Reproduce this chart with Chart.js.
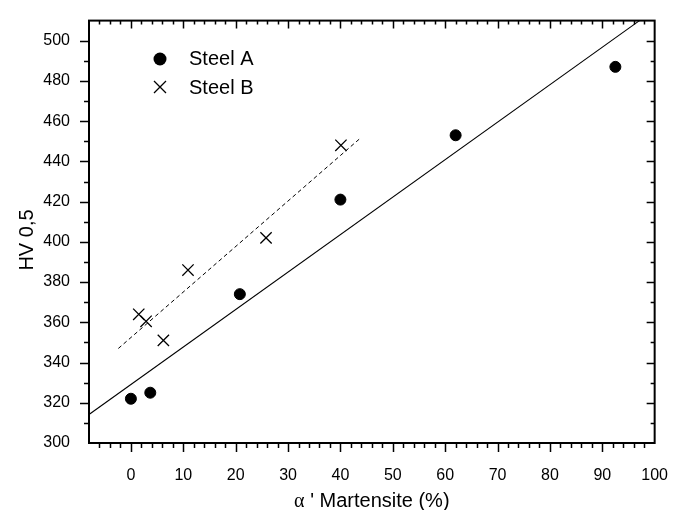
<!DOCTYPE html>
<html>
<head>
<meta charset="utf-8">
<title>HV 0,5 vs martensite</title>
<script src="https://cdn.jsdelivr.net/npm/chart.js@4.4.1/dist/chart.umd.min.js"></script>
<style>
  html, body { margin: 0; padding: 0; background: #fff; }
  canvas { display: block; }
</style>
</head>
<body>
<canvas id="chart" width="683" height="510"></canvas>
<script>
// measured points
const steelAx = [0, 3.7, 20.8, 40, 62, 92.5];
const steelAy = [322, 325, 374, 421, 453, 487];
const steelBx = [1.5, 2.9, 6.2, 10.9, 25.8, 40.1];
const steelBy = [364, 360.5, 351, 386, 402, 448];

// fitted lines (end points)
const fitAx = [-8, 97.1];
const fitAy = [314.2, 510];
const fitBx = [-2.4, 43.7];
const fitBy = [347, 451.3];

const seriesLabels = ["Steel A", "Steel B"];
const xTitle = ["α", " ' ", "Martensite (%)"];
const yTitle = "HV 0,5";

const SANS = "'Liberation Sans', Arial, sans-serif";
const SERIF = "'Liberation Serif', 'Times New Roman', serif";

const toPoints = (xs, ys) => xs.map((x, i) => ({ x: x, y: ys[i] }));

// frame, mirrored ticks, titles and legend
const framePlugin = {
  id: "frame",
  afterDraw(chart) {
    const { ctx, chartArea: a, scales } = chart;
    const xs = scales.x, ys = scales.y;
    ctx.save();
    ctx.strokeStyle = "#000";
    ctx.lineWidth = 1.5;
    ctx.beginPath();
    xs.ticks.forEach((t) => {
      if (t.value <= xs.min || t.value >= xs.max) return;
      const px = Math.round(xs.getPixelForValue(t.value)) + 0.5;
      const major = t.value % 10 === 0;
      ctx.moveTo(px, a.bottom);
      ctx.lineTo(px, a.bottom + (major ? 9 : 5));
      ctx.moveTo(px, a.top);
      ctx.lineTo(px, a.top + (major ? 8 : 4));
    });
    ys.ticks.forEach((t) => {
      if (t.value <= ys.min || t.value >= ys.max) return;
      const py = Math.round(ys.getPixelForValue(t.value)) + 0.5;
      const major = t.value % 20 === 0;
      ctx.moveTo(a.left, py);
      ctx.lineTo(a.left - (major ? 9 : 5), py);
      ctx.moveTo(a.right, py);
      ctx.lineTo(a.right - (major ? 8 : 4), py);
    });
    ctx.stroke();
    ctx.lineWidth = 2;
    ctx.strokeRect(a.left, a.top, a.right - a.left, a.bottom - a.top);

    ctx.fillStyle = "#000";
    ctx.textBaseline = "alphabetic";
    ctx.textAlign = "left";

    // x title, alpha in a serif face
    const fonts = ["20px " + SERIF, "20px " + SANS, "20px " + SANS];
    const widths = xTitle.map((s, i) => { ctx.font = fonts[i]; return ctx.measureText(s).width; });
    let tx = (a.left + a.right) / 2 - widths.reduce((p, c) => p + c, 0) / 2;
    xTitle.forEach((s, i) => {
      ctx.font = fonts[i];
      ctx.fillText(s, tx, 507);
      tx += widths[i];
    });

    // y title
    ctx.save();
    ctx.translate(33, 240);
    ctx.rotate(-Math.PI / 2);
    ctx.font = "20px " + SANS;
    ctx.textAlign = "center";
    ctx.fillText(yTitle, 0, 0);
    ctx.restore();

    // legend
    ctx.font = "20px " + SANS;
    ctx.beginPath();
    ctx.arc(160, 59, 6.5, 0, Math.PI * 2);
    ctx.fill();
    ctx.fillText(chart.data.datasets[0].label, 189, 65);
    ctx.lineWidth = 1.3;
    ctx.beginPath();
    ctx.moveTo(154, 81); ctx.lineTo(166, 93);
    ctx.moveTo(166, 81); ctx.lineTo(154, 93);
    ctx.stroke();
    ctx.fillText(chart.data.datasets[1].label, 189, 94);
    ctx.restore();
  },
};

new Chart(document.getElementById("chart"), {
  type: "scatter",
  data: {
    datasets: [
      {
        label: seriesLabels[0],
        data: toPoints(steelAx, steelAy),
        pointStyle: "circle",
        pointRadius: 5.5,
        borderWidth: 1,
        borderColor: "#000",
        backgroundColor: "#000",
      },
      {
        label: seriesLabels[1],
        data: toPoints(steelBx, steelBy),
        pointStyle: "crossRot",
        pointRadius: 8,
        borderWidth: 1.3,
        borderColor: "#000",
        backgroundColor: "#000",
      },
      {
        label: "fit A",
        data: toPoints(fitAx, fitAy),
        showLine: true,
        pointRadius: 0,
        borderWidth: 1.1,
        borderColor: "#000",
      },
      {
        label: "fit B",
        data: toPoints(fitBx, fitBy),
        showLine: true,
        pointRadius: 0,
        borderWidth: 1,
        borderDash: [4, 3],
        borderColor: "#000",
      },
    ],
  },
  options: {
    responsive: false,
    animation: false,
    layout: { padding: { top: 13, right: 27, left: 0, bottom: 0 } },
    plugins: {
      legend: { display: false },
      tooltip: { enabled: false },
    },
    scales: {
      x: {
        type: "linear",
        min: -8,
        max: 100,
        grid: { display: false },
        border: { display: false },
        ticks: {
          stepSize: 2,
          autoSkip: false,
          maxRotation: 0,
          padding: 15,
          color: "#000",
          font: { family: SANS, size: 16 },
          callback: (v) => (v % 10 === 0 ? v : ""),
        },
        afterFit: (scale) => { scale.height = 67; },
      },
      y: {
        type: "linear",
        min: 300,
        max: 510,
        grid: { display: false },
        border: { display: false },
        ticks: {
          stepSize: 10,
          autoSkip: false,
          padding: 11,
          color: "#000",
          font: { family: SANS, size: 16 },
          callback: (v) => (v % 20 === 0 ? v : ""),
        },
        afterFit: (scale) => { scale.width = 89; },
      },
    },
  },
  plugins: [framePlugin],
});
</script>
</body>
</html>
